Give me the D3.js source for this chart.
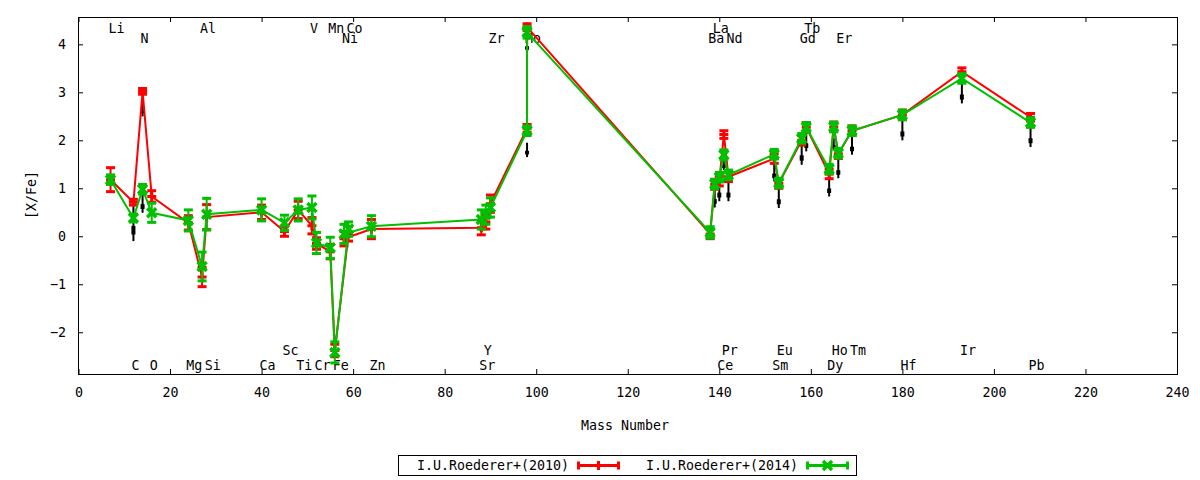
<!DOCTYPE html>
<html>
<head>
<meta charset="utf-8">
<script src="https://cdn.jsdelivr.net/npm/d3@7"></script>
<style>
    body { margin: 0; background: #fff; }
    text { font-family: "DejaVu Sans Mono", monospace; font-size: 13.3px; fill: #000; }
</style>
</head>
<body>
<div id="chart"></div>
<script>
// mass number of each measured species (two entries at 98)
const mass_number = [7, 12, 14, 16, 24, 27, 28, 40, 45, 48, 51, 52, 55, 56, 59, 58, 64, 88, 89, 90, 98, 98,
    138, 139, 140, 141, 142, 152, 153, 158, 159, 164, 165, 166, 169, 180, 193, 208];

const roederer_2010 = [1.18, 0.71, 3.02, 0.83, 0.28, -0.85, 0.40, 0.50, 0.10, 0.55, 0.22, -0.15, -0.32, -2.38, 0.05, -0.05, 0.15, 0.18, 0.30, 0.68, 2.25, 4.36,
    0.05, 1.08, 1.15, 2.12, 1.24, 1.62, 1.10, 2.00, 2.27, 1.30, 2.28, 1.72, 2.20, 2.53, 3.43, 2.48];
const err_2010 = [0.25, 0.06, 0.06, 0.12, 0.15, 0.20, 0.26, 0.15, 0.10, 0.18, 0.17, 0.12, 0.15, 0.13, 0.15, 0.15, 0.20, 0.15, 0.15, 0.18, 0.08, 0.07,
    0.10, 0.10, 0.10, 0.08, 0.10, 0.10, 0.10, 0.10, 0.10, 0.10, 0.10, 0.10, 0.10, 0.10, 0.08, 0.08];

const roederer_2014 = [1.18, 0.38, 0.98, 0.49, 0.33, -0.63, 0.46, 0.55, 0.28, 0.55, 0.60, -0.14, -0.24, -2.42, 0.15, 0.05, 0.21, 0.35, 0.45, 0.60, 2.20, 4.25,
    0.08, 1.09, 1.23, 1.70, 1.28, 1.71, 1.11, 2.04, 2.27, 1.40, 2.28, 1.73, 2.20, 2.53, 3.29, 2.37];
const err_2014 = [0.10, 0.08, 0.10, 0.20, 0.22, 0.30, 0.33, 0.23, 0.16, 0.23, 0.24, 0.22, 0.22, 0.22, 0.15, 0.20, 0.22, 0.20, 0.20, 0.20, 0.10, 0.12,
    0.12, 0.10, 0.10, 0.10, 0.10, 0.10, 0.10, 0.10, 0.10, 0.10, 0.10, 0.10, 0.10, 0.10, 0.10, 0.10];

// upper limit arrows: [mass, from, to]
const upper_limits = [[12, 0.62, -0.10], [14, 2.80, 2.50], [14, 0.90, 0.49], [98, 4.13, 3.83], [98, 1.95, 1.65],
    [139, 1.00, 0.60], [140, 1.14, 0.73], [141, 1.63, 1.38], [142, 1.14, 0.73], [152, 1.52, 1.14], [153, 1.00, 0.59],
    [158, 1.94, 1.49], [159, 2.15, 1.77], [164, 1.21, 0.83], [165, 2.04, 1.80], [166, 1.59, 1.21], [169, 2.08, 1.70],
    [180, 2.42, 2.00], [193, 3.19, 2.77], [208, 2.28, 1.86]];

// element labels, four rows
const labels_top_1 = [["Li", 7], ["Al", 27], ["V", 51], ["Mn", 55], ["Co", 59], ["La", 139], ["Tb", 159]];
const labels_top_2 = [["N", 14], ["Ni", 58], ["Zr", 90], ["Mo", 98], ["Ba", 138], ["Nd", 142], ["Gd", 158], ["Er", 166]];
const labels_bottom_1 = [["Sc", 45], ["Y", 89], ["Pr", 141], ["Eu", 153], ["Ho", 165], ["Tm", 169], ["Ir", 193]];
const labels_bottom_2 = [["C", 12], ["O", 16], ["Mg", 24], ["Si", 28], ["Ca", 40], ["Ti", 48], ["Cr", 52], ["Fe", 56], ["Zn", 64],
    ["Sr", 88], ["Ce", 140], ["Sm", 152], ["Dy", 164], ["Hf", 180], ["Pb", 208]];

const x_ticks = d3.range(0, 241, 20);
const y_ticks = [-2, -1, 0, 1, 2, 3, 4];
const series_names = ["I.U.Roederer+(2010)", "I.U.Roederer+(2014)"];

const width = 1200, height = 480;
const margin = { top: 17, right: 23, bottom: 106, left: 78 };
const inner_w = width - margin.left - margin.right;
const inner_h = height - margin.top - margin.bottom;

const svg = d3.select("#chart")
    .append("svg")
    .attr("width", width)
    .attr("height", height);
const g = svg.append("g")
    .attr("transform", `translate(${margin.left},${margin.top})`);

const x = d3.scaleLinear().domain([0, 240]).range([0.5, inner_w]);
const y = d3.scaleLinear().domain([-2.87, 4.57]).range([inner_h, 0]);

// axes with inward ticks, mirrored on top/right
function style_axis(sel) {
    sel.select(".domain").remove();
    sel.selectAll("line").attr("stroke", "#000");
    sel.selectAll("text").style("font-family", "DejaVu Sans Mono, monospace").style("font-size", "13.3px");
}
g.append("g").attr("transform", `translate(0,${inner_h})`)
    .call(d3.axisBottom(x).tickValues(x_ticks).tickSize(-5).tickPadding(14))
    .call(style_axis);
g.append("g").call(d3.axisTop(x).tickValues(x_ticks).tickSize(-5).tickFormat(""))
    .call(style_axis);
g.append("g").call(d3.axisLeft(y).tickValues(y_ticks).tickSize(-5).tickPadding(12))
    .call(style_axis);
g.append("g").attr("transform", `translate(${inner_w},0)`)
    .call(d3.axisRight(y).tickValues(y_ticks).tickSize(-5).tickFormat(""))
    .call(style_axis);

g.append("rect")
    .attr("x", 0.5).attr("y", 0.5)
    .attr("width", inner_w).attr("height", inner_h)
    .attr("fill", "none").attr("stroke", "#000").attr("stroke-width", 1);

// element labels (left justified at the mass number)
function add_labels(rows, yval) {
    g.selectAll(null)
        .data(rows)
        .enter().append("text")
        .attr("x", d => x(d[1]) - 2)
        .attr("y", y(yval))
        .attr("dy", "0.43em")
        .text(d => d[0]);
}
add_labels(labels_top_1, 4.35);
add_labels(labels_top_2, 4.15);
add_labels(labels_bottom_1, -2.35);
add_labels(labels_bottom_2, -2.66);

// upper limit arrows
const lim = g.append("g");
upper_limits.forEach(d => {
    const y0 = y(d[1]), y1 = y(d[2]);
    lim.append("line")
        .attr("x1", x(d[0])).attr("x2", x(d[0]))
        .attr("y1", y0).attr("y2", y1)
        .attr("stroke", "#000").attr("stroke-width", 2);
    lim.append("rect")
        .attr("x", x(d[0]) - 2).attr("width", 4)
        .attr("y", y0 + (y1 - y0) * 0.56).attr("height", (y1 - y0) * 0.25)
        .attr("fill", "#000");
});

function draw_series(values, errs, color, marker) {
    const pts = mass_number.map((m, i) => ({ m: m, v: values[i], e: errs[i] }));
    const line = d3.line().x(d => x(d.m)).y(d => y(d.v));
    const s = g.append("g");
    s.append("path")
        .datum(pts)
        .attr("fill", "none")
        .attr("stroke", color)
        .attr("stroke-width", 2)
        .attr("d", line);
    pts.forEach(d => {
        const cx = x(d.m), cy = y(d.v);
        const top = y(d.v + d.e), bot = y(d.v - d.e);
        s.append("line").attr("x1", cx).attr("x2", cx).attr("y1", top).attr("y2", bot)
            .attr("stroke", color).attr("stroke-width", 2);
        [top, bot].forEach(yy => {
            s.append("line").attr("x1", cx - 4.5).attr("x2", cx + 4.5).attr("y1", yy).attr("y2", yy)
                .attr("stroke", color).attr("stroke-width", 3);
        });
        draw_marker(s, cx, cy, color, marker);
    });
}

function draw_marker(sel, cx, cy, color, marker) {
    const r = 4.5;
    if (marker === "plus") {
        sel.append("path")
            .attr("d", `M${cx - r},${cy}H${cx + r}M${cx},${cy - r}V${cy + r}`)
            .attr("stroke", color).attr("stroke-width", 3).attr("fill", "none");
    } else {
        sel.append("path")
            .attr("d", `M${cx - r},${cy - r}L${cx + r},${cy + r}M${cx - r},${cy + r}L${cx + r},${cy - r}`)
            .attr("stroke", color).attr("stroke-width", 3.5).attr("fill", "none");
    }
}

draw_series(roederer_2010, err_2010, "#ff0000", "plus");
draw_series(roederer_2014, err_2014, "#00c000", "cross");

// axis titles
svg.append("text")
    .attr("x", 625).attr("y", 430)
    .attr("text-anchor", "middle")
    .text("Mass Number");
svg.append("text")
    .attr("transform", "translate(36,195) rotate(-90)")
    .attr("text-anchor", "middle")
    .text("[X/Fe]");

// legend
const legend = svg.append("g");
legend.append("rect")
    .attr("x", 398.5).attr("y", 455.5)
    .attr("width", 458).attr("height", 20)
    .attr("fill", "none").attr("stroke", "#000").attr("stroke-width", 1);
const legend_items = [
    { name: series_names[0], color: "#ff0000", marker: "plus", text_end: 569, x0: 577, x1: 620 },
    { name: series_names[1], color: "#00c000", marker: "cross", text_end: 798, x0: 806, x1: 849 }
];
legend_items.forEach(d => {
    legend.append("text")
        .attr("x", d.text_end).attr("y", 465.5)
        .attr("dy", "0.35em")
        .attr("text-anchor", "end")
        .text(d.name);
    legend.append("line")
        .attr("x1", d.x0).attr("x2", d.x1).attr("y1", 465.5).attr("y2", 465.5)
        .attr("stroke", d.color).attr("stroke-width", 3);
    [d.x0 + 1.5, d.x1 - 1.5].forEach(xx => {
        legend.append("line")
            .attr("x1", xx).attr("x2", xx).attr("y1", 461.5).attr("y2", 469.5)
            .attr("stroke", d.color).attr("stroke-width", 3);
    });
    draw_marker(legend, (d.x0 + d.x1) / 2, 465.5, d.color, d.marker);
});
</script>
</body>
</html>
